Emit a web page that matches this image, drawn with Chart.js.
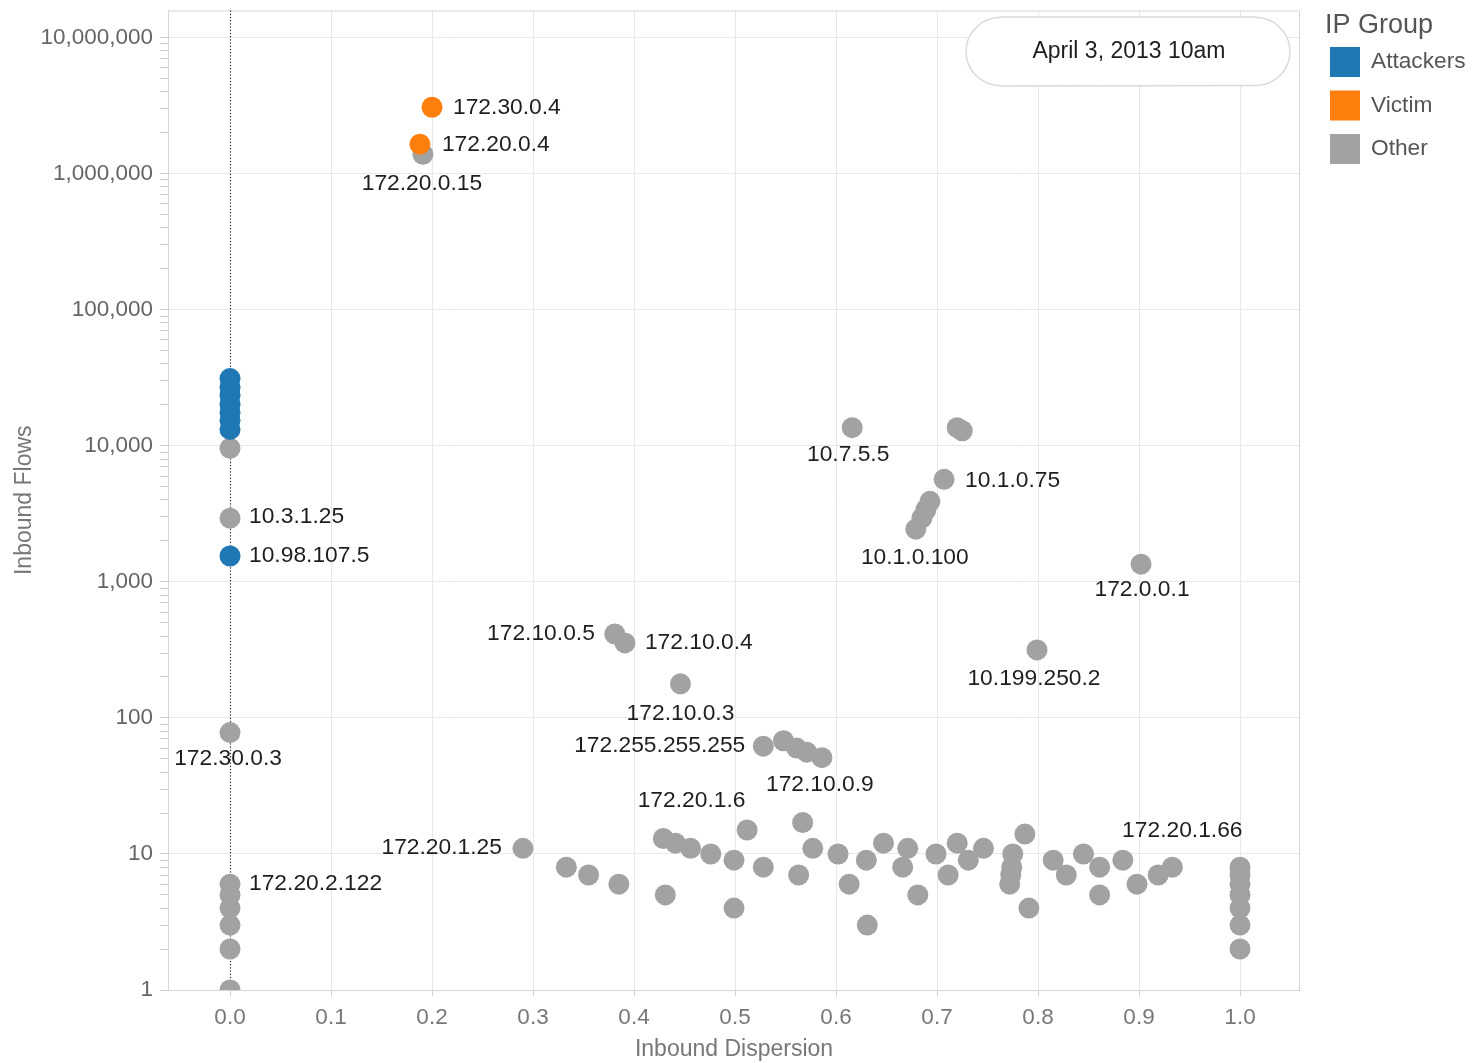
<!DOCTYPE html>
<html>
<head>
<meta charset="utf-8">
<script src="https://cdn.jsdelivr.net/npm/chart.js@4.4.1/dist/chart.umd.min.js"></script>
<style>
  html, body { margin: 0; padding: 0; background: #fff; }
  #wrap { width: 1472px; height: 1063px; position: relative; }
  canvas { display: block; }
</style>
</head>
<body>
<div id="wrap"><canvas id="c" width="1472" height="1063"></canvas></div>
<script>
// ---- data ----
const groupNames = ['Attackers', 'Victim', 'Other'];
const snapshotLabel = 'April 3, 2013 10am';

const attackersX = [0, 0, 0, 0, 0, 0, 0, 0];
const attackersY = [31200, 26800, 23400, 20100, 17600, 15400, 13200, 1550];
const attackersIP = [null, null, null, null, null, null, null, '10.98.107.5'];

const victimX = [0.200, 0.188];
const victimY = [3080000, 1650000];
const victimIP = ['172.30.0.4', '172.20.0.4'];

const otherX = [
  0, 0, 0, 0, 0, 0, 0, 0, 0,
  0.191, 0.616, 0.720, 0.725, 0.707, 0.693, 0.689, 0.685, 0.679, 0.902, 0.799,
  0.381, 0.391, 0.446, 0.528, 0.548, 0.561, 0.571, 0.586,
  0.290, 0.333, 0.355, 0.385, 0.429, 0.441, 0.456, 0.476, 0.431, 0.499, 0.499,
  0.512, 0.528, 0.563, 0.567, 0.577, 0.602, 0.613, 0.630, 0.631, 0.647, 0.671,
  0.666, 0.681, 0.699, 0.711, 0.720, 0.731, 0.746, 0.775, 0.774, 0.773, 0.772,
  0.787, 0.791, 0.815, 0.828, 0.845, 0.861, 0.861, 0.884, 0.898, 0.919, 0.933,
  1.0, 1.0, 1.0, 1.0, 1.0, 1.0, 1.0
];
const otherY = [
  9600, 2940, 78, 6, 5, 4, 3, 2, 1,
  1390000, 13600, 13600, 12900, 5670, 3910, 3390, 2940, 2440, 1350, 316,
  414, 356, 178, 62, 68, 60, 56, 51,
  11, 8, 7, 6, 13, 12, 11, 10, 5, 9, 4,
  15, 8, 7, 17, 11, 10, 6, 9, 3, 12, 11,
  8, 5, 10, 7, 12, 9, 11, 10, 8, 7, 6,
  14, 4, 9, 7, 10, 8, 5, 9, 6, 7, 8,
  8, 7, 6, 5, 4, 3, 2
];
const otherIP = [
  null, '10.3.1.25', '172.30.0.3', '172.20.2.122', null, null, null, null, null,
  '172.20.0.15', '10.7.5.5', null, null, '10.1.0.75', null, null, null, '10.1.0.100', '172.0.0.1', '10.199.250.2',
  '172.10.0.5', '172.10.0.4', '172.10.0.3', '172.255.255.255', null, null, null, '172.10.0.9',
  '172.20.1.25', null, null, null, null, null, '172.20.1.6', null, null, null, null,
  null, null, null, null, null, null, null, null, null, null, null,
  null, null, null, null, null, null, null, null, null, null, null,
  null, null, null, null, null, null, null, null, null, null, '172.20.1.66',
  null, null, null, null, null, null, null
];

const xTickValues = [0, 0.1, 0.2, 0.3, 0.4, 0.5, 0.6, 0.7, 0.8, 0.9, 1.0];
const yMajorTicks = [1, 10, 100, 1000, 10000, 100000, 1000000, 10000000];

// ---- styling ----
const FONT = "'Liberation Sans', Arial, sans-serif";
const colors = { Attackers: '#1f77b4', Victim: '#ff7f0e', Other: '#a2a2a2' };

// where each IP label sits relative to its mark: [dx, dy, textAlign]
const labelPlacement = {
  '172.30.0.4': [21, 0, 'left'],
  '172.20.0.4': [22, 1, 'left'],
  '172.20.0.15': [-1, 29, 'center'],
  '10.3.1.25': [19, -1, 'left'],
  '10.98.107.5': [19, 0, 'left'],
  '172.30.0.3': [-2, 26, 'center'],
  '172.20.2.122': [19, 0, 'left'],
  '172.20.1.25': [-21, -1, 'right'],
  '172.10.0.5': [-20, 0, 'right'],
  '172.10.0.4': [20, 0, 'left'],
  '172.10.0.3': [0, 30, 'center'],
  '172.255.255.255': [-18, 0, 'right'],
  '172.10.0.9': [-2, 27, 'center'],
  '172.20.1.6': [1, -48, 'center'],
  '10.7.5.5': [-4, 27, 'center'],
  '10.1.0.75': [21, 1, 'left'],
  '10.1.0.100': [-1, 29, 'center'],
  '172.0.0.1': [1, 26, 'center'],
  '10.199.250.2': [-3, 29, 'center'],
  '172.20.1.66': [10, -36, 'center']
};

function pts(xs, ys) { return xs.map((x, i) => ({ x: x, y: ys[i] })); }

const groups = [
  { name: groupNames[0], data: pts(attackersX, attackersY), ips: attackersIP },
  { name: groupNames[1], data: pts(victimX, victimY), ips: victimIP },
  { name: groupNames[2], data: pts(otherX, otherY), ips: otherIP }
];

function yAllTicks() {
  const out = [];
  yMajorTicks.forEach((m, i) => {
    out.push(m);
    if (i < yMajorTicks.length - 1) for (let k = 2; k <= 9; k++) out.push(m * k);
  });
  return out;
}

const decorPlugin = {
  id: 'decor',
  beforeDatasetsDraw(chart) {
    const { ctx, chartArea: a, scales } = chart;
    ctx.save();
    // plot frame
    ctx.strokeStyle = '#d6d6d6';
    ctx.lineWidth = 1;
    ctx.strokeRect(a.left + 0.5, a.top + 0.5, a.right - a.left - 1, a.bottom - a.top);
    // dotted reference line at zero dispersion
    const x0 = Math.round(scales.x.getPixelForValue(0)) + 0.5;
    ctx.strokeStyle = '#333';
    ctx.lineWidth = 1.2;
    ctx.setLineDash([1.2, 2]);
    ctx.beginPath();
    ctx.moveTo(x0, a.top);
    ctx.lineTo(x0, a.bottom);
    ctx.stroke();
    ctx.restore();
  },
  afterDatasetsDraw(chart) {
    const { ctx } = chart;
    ctx.save();
    // point labels
    ctx.font = '22.8px ' + FONT;
    ctx.fillStyle = '#1e1e1e';
    ctx.textBaseline = 'middle';
    chart.data.datasets.forEach((ds, di) => {
      const meta = chart.getDatasetMeta(di);
      meta.data.forEach((el, j) => {
        const ip = ds.ips[j];
        if (!ip || !labelPlacement[ip]) return;
        const [dx, dy, align] = labelPlacement[ip];
        ctx.textAlign = align;
        ctx.fillText(ip, el.x + dx, el.y + dy);
      });
    });

    // timestamp caption
    const bx = 966, by = 17, bw = 324, bh = 69, r = 34;
    ctx.beginPath();
    ctx.moveTo(bx + r, by);
    ctx.lineTo(bx + bw - r, by);
    ctx.arc(bx + bw - r, by + r + 0.5, r, -Math.PI / 2, Math.PI / 2);
    ctx.lineTo(bx + r, by + bh);
    ctx.arc(bx + r, by + r + 0.5, r, Math.PI / 2, Math.PI * 1.5);
    ctx.closePath();
    ctx.fillStyle = '#fff';
    ctx.fill();
    ctx.strokeStyle = '#d9d9d9';
    ctx.lineWidth = 1.5;
    ctx.stroke();
    ctx.fillStyle = '#1e1e1e';
    ctx.textAlign = 'center';
    ctx.font = '23px ' + FONT;
    ctx.fillText(snapshotLabel, bx + bw / 2 + 1, by + bh / 2);

    // legend
    ctx.textAlign = 'left';
    ctx.fillStyle = '#555';
    ctx.font = '27px ' + FONT;
    ctx.fillText('IP Group', 1325, 26);
    ctx.font = '22.7px ' + FONT;
    groupNames.forEach((g, i) => {
      const y = 47 + i * 43.5;
      ctx.fillStyle = colors[g];
      ctx.fillRect(1330, y, 30, 30);
      ctx.fillStyle = '#555';
      ctx.fillText(g, 1371, y + 15);
    });
    ctx.restore();
  }
};

new Chart(document.getElementById('c'), {
  type: 'scatter',
  data: {
    datasets: groups.map(g => ({
      label: g.name,
      data: g.data,
      ips: g.ips,
      backgroundColor: colors[g.name],
      borderWidth: 0,
      pointRadius: 10.5,
      pointHoverRadius: 10.5,
      clip: 0
    }))
  },
  options: {
    responsive: false,
    devicePixelRatio: 1,
    animation: false,
    events: [],
    layout: { padding: { left: 0, right: 172, top: 8, bottom: 0 } },
    plugins: { legend: { display: false }, tooltip: { enabled: false } },
    scales: {
      x: {
        type: 'linear',
        min: -0.0614,
        max: 1.0594,
        afterBuildTicks: s => { s.ticks = xTickValues.map(v => ({ value: v })); },
        afterFit: s => { s.height = 73; s.paddingLeft = 0; s.paddingRight = 0; },
        ticks: {
          autoSkip: false,
          maxRotation: 0,
          padding: 8,
          color: '#777',
          font: { family: FONT, size: 22.5 },
          callback: v => Number(v).toFixed(1)
        },
        grid: { color: '#e8e8e8', tickColor: '#cfcfcf', tickLength: 6 },
        border: { color: '#cfcfcf' },
        title: {
          display: true,
          text: 'Inbound Dispersion',
          color: '#777',
          font: { family: FONT, size: 23 },
          padding: { top: 0, bottom: 0 }
        }
      },
      y: {
        type: 'logarithmic',
        min: 1,
        max: 15850000,
        afterBuildTicks: s => { s.ticks = yAllTicks().map(v => ({ value: v })); },
        afterFit: s => { s.width = 168; s.paddingTop = 0; s.paddingBottom = 0; },
        ticks: {
          autoSkip: false,
          padding: 7,
          color: '#666',
          font: { family: FONT, size: 22.5 },
          callback: v => yMajorTicks.includes(v) ? v.toLocaleString('en-US') : ''
        },
        grid: {
          color: c => (c.tick && yMajorTicks.includes(c.tick.value)) ? '#e8e8e8' : 'rgba(0,0,0,0)',
          tickColor: '#cfcfcf',
          tickLength: 8
        },
        border: { color: '#cfcfcf' },
        title: {
          display: true,
          text: 'Inbound Flows',
          color: '#777',
          font: { family: FONT, size: 23 },
          padding: { top: 11, bottom: 0 }
        }
      }
    }
  },
  plugins: [decorPlugin]
});
</script>
</body>
</html>
